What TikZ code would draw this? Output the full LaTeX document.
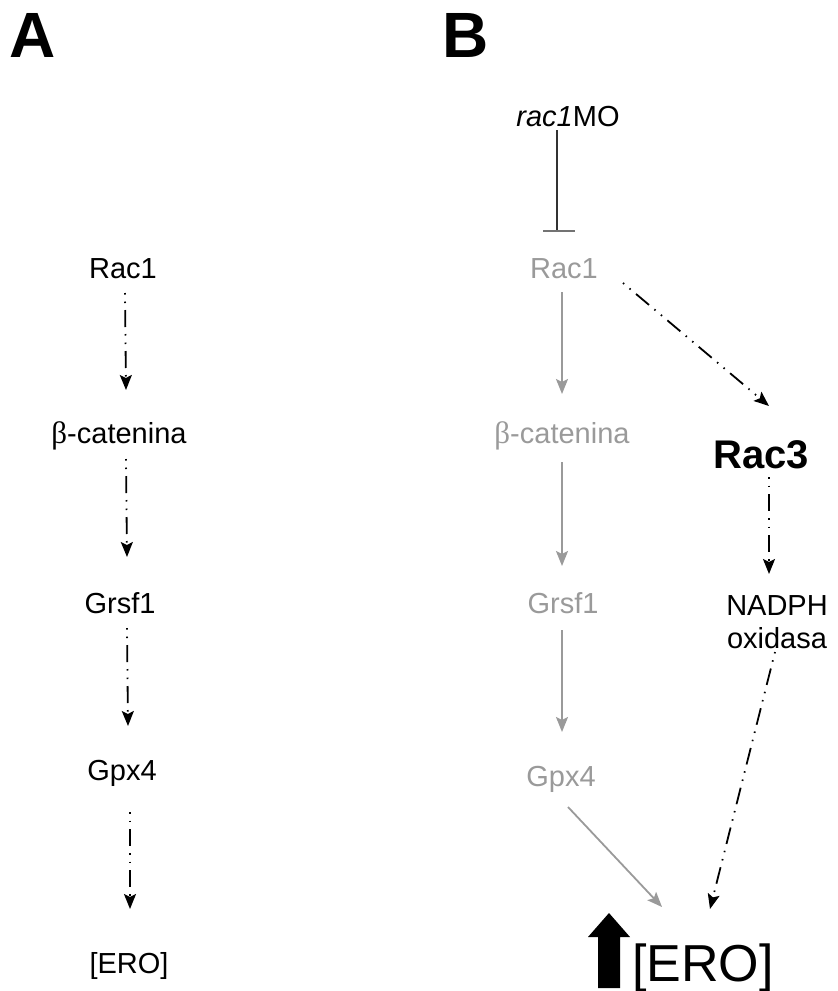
\documentclass[tikz,border=0pt]{standalone}
\usepackage{fontspec}
\setmainfont{Liberation Sans}
\newfontfamily\greekserif{Liberation Serif}
\usetikzlibrary{arrows.meta}
\definecolor{fade}{HTML}{9A9A9A}
\tikzset{
  lbl/.style={font=\fontsize{29}{34}\selectfont, inner sep=0pt, anchor=base},
  panel/.style={font=\fontsize{64}{66}\selectfont\bfseries, anchor=north west, inner sep=0pt},
  faint/.style={lbl, text=fade},
  tip/.style={-{Stealth[length=15pt,width=12pt,inset=3pt]}},
  dd/.style={line width=1.8pt, dash pattern=on 1.5pt off 7pt on 1.5pt off 7pt on 17pt off 7pt, tip},
  ga/.style={line width=1.8pt, draw=fade, tip},
}
\begin{document}
\begin{tikzpicture}[x=1pt,y=-1pt]
\useasboundingbox (0,0) rectangle (838,991);
% panel labels
\node[panel] (pA) at (9,13) {A};
\node[panel] (pB) at (442,13) {B};
% panel A
\node[lbl] (a1) at (123,278) {Rac1};
\node[lbl] (a2) at (119,443) {{\greekserif\fontsize{31}{34}\selectfont β}-catenina};
\node[lbl] (a3) at (120,613) {Grsf1};
\node[lbl] (a4) at (122,780) {Gpx4};
\node[lbl] (a5) at (129,973) {[ERO]};
\coordinate (a1s) at (125,293);  \coordinate (a2n) at (126,390);
\coordinate (a2s) at (126,459);  \coordinate (a3n) at (127,557);
\coordinate (a3s) at (127,628);  \coordinate (a4n) at (128,726);
\coordinate (a4s) at (130,812);  \coordinate (a5n) at (130,909);
\draw[dd] (a1s) -- (a2n);
\draw[dd] (a2s) -- (a3n);
\draw[dd] (a3s) -- (a4n);
\draw[dd] (a4s) -- (a5n);
% panel B
\node[lbl] (mo) at (568,126) {\itshape rac1\upshape MO};
\node[faint] (b1) at (564,278) {Rac1};
\node[faint] (b2) at (562,443) {{\greekserif\fontsize{31}{34}\selectfont β}-catenina};
\node[faint] (b3) at (563,613) {Grsf1};
\node[faint] (b4) at (561,786) {Gpx4};
\node[lbl, font=\fontsize{40}{44}\selectfont\bfseries] (r3) at (761,468) {Rac3};
\node[lbl] (nad) at (777,615) {NADPH};
\node[lbl] (oxi) at (777,648) {oxidasa};
\node[lbl, font=\fontsize{52}{56}\selectfont, anchor=base west] (ero) at (632,981) {[ERO]};
% inhibition
\coordinate (inhT) at (557,130);
\coordinate (inhB) at (557,231);
\draw[line width=1.9pt, draw=black!80] (inhT) -- (inhB);
\draw[line width=1.9pt, draw=black!55] (543,231) -- (575,231);
% gray chain
\draw[ga] (562,292) -- (562,394);
\draw[ga] (562,462) -- (562,566);
\draw[ga] (562,630) -- (562,732);
\draw[ga] (568,807) -- (662,907);
% Rac1 -> Rac3
\draw[dd] (623,283) -- (769,406);
% Rac3 -> NADPH
\draw[dd] (769,477) -- (769,574);
% NADPH -> ERO
\draw[dd] (775,652) -- (710,909);
% big up arrow
\fill[black] (598,988) -- (598,937) -- (588,937) -- (609,913) -- (630,937) -- (620,937) -- (620,988) -- cycle;
\end{tikzpicture}
\end{document}
